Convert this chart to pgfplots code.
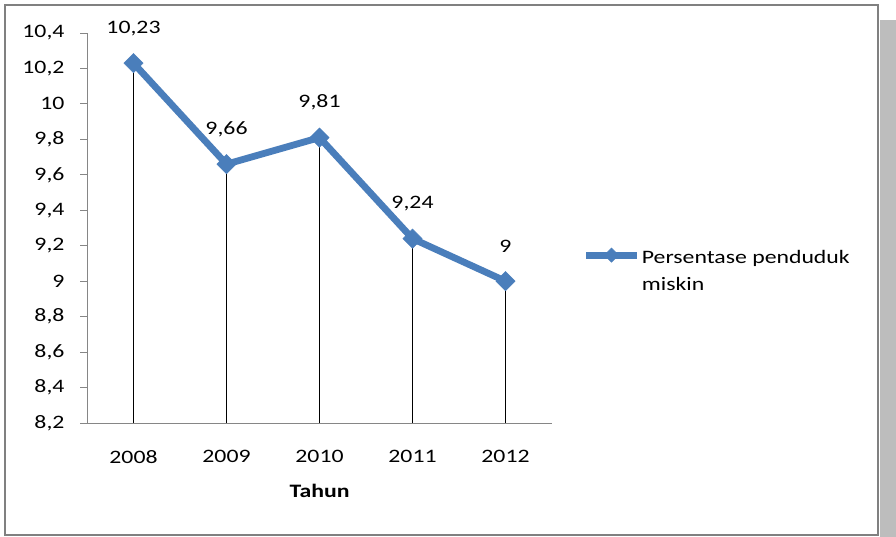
\documentclass[border=0pt]{standalone}
\usepackage{fontspec}
\setmainfont{Carlito}[FakeStretch=1.25]
\usepackage{pgfplots}
\pgfplotsset{compat=1.18}
\definecolor{lineblue}{HTML}{4A7EBB}
\definecolor{axgray}{HTML}{868686}
\pgfplotsset{myleg/.style={legend image code/.code={\draw[mark repeat=2,mark phase=2,mark size=5bp,#1] plot coordinates {(0bp,0bp) (25bp,0bp) (50bp,0bp)};}}}
\begin{document}
\fontsize{19bp}{27bp}\selectfont
\begin{tikzpicture}[x=1bp,y=1bp]
\useasboundingbox (0,0) rectangle (896,537);
\fill[white] (0,0) rectangle (896,537);
\fill[black!26] (880,0) rectangle (896,517);
\draw[black!50, line width=2bp] (5,2) rectangle (878,532);
\begin{axis}[
  at={(87bp,114bp)}, anchor=south west,
  scale only axis, width=465bp, height=390bp,
  xmin=-0.5, xmax=4.5, ymin=8.2, ymax=10.4,
  xtick={0,1,2,3,4}, xticklabels={2008,2009,2010,2011,2012},
  ytick={8.2,8.4,8.6,8.8,9,9.2,9.4,9.6,9.8,10,10.2,10.4},
  axis x line*=bottom, axis y line*=left,
  axis line style={axgray, line width=0.8bp},
  x axis line style={-}, y axis line style={-},
  tick align=outside, major tick length=7bp,
  ytick style={axgray, line width=0.8bp},
  xtick style={draw=none},
  /pgf/number format/assume math mode=true,
  yticklabel style={xshift=-9bp, /pgf/number format/.cd, use comma, fixed, precision=1},
  xticklabel style={yshift=-14bp},
  xlabel={\textbf{Tahun}},
  xlabel style={yshift=-8bp},
  legend style={at={(axis description cs:1.06,0.469)}, anchor=north west, draw=none, fill=none, font=\fontsize{19bp}{27bp}\selectfont},
  legend cell align=left,
  myleg,
]
\addplot[black, line width=0.9bp, ycomb, mark=none, forget plot] coordinates {(0,10.23) (1,9.66) (2,9.81) (3,9.24) (4,9)};
\addplot[lineblue, line width=6.8bp, mark=square*, mark size=6.8bp,
  mark options={rotate=45, solid, line width=0.5bp, fill=lineblue},
  nodes near coords, point meta=explicit symbolic,
  nodes near coords style={black, anchor=center, yshift=35bp},
] coordinates {(0,10.23)[10,23] (1,9.66)[9,66] (2,9.81)[9,81] (3,9.24)[9,24] (4,9)[9]};
\addlegendentry{\begin{tabular}[t]{@{}l@{}}Persentase penduduk\\miskin\end{tabular}}
\end{axis}
\end{tikzpicture}
\end{document}
